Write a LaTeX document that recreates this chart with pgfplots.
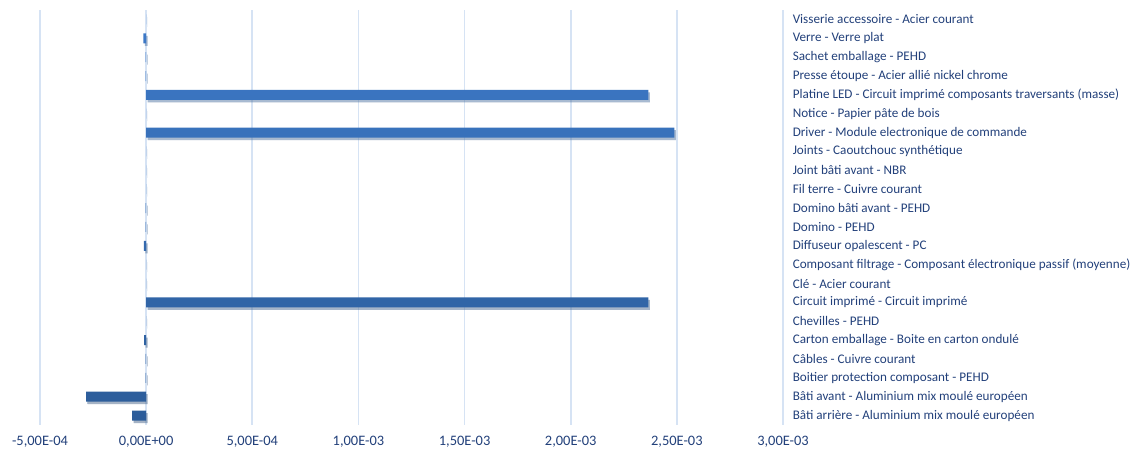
\documentclass[border=0pt]{standalone}
\usepackage{fontspec}
\setmainfont{Carlito}
\usepackage{pgfplots}
\pgfplotsset{compat=1.18}
\usetikzlibrary{shadows}
\definecolor{barblue}{HTML}{3D7AC9}
\definecolor{bardark}{HTML}{2C5C99}
\definecolor{gridblue}{HTML}{D6E3F4}
\definecolor{labelnavy}{HTML}{22407A}
\begin{document}
\begin{tikzpicture}
\begin{axis}[
    scale only axis,
    width=743bp, height=415bp,
    xmin=-5e-4, xmax=3e-3,
    ymin=-0.5, ymax=21.5,
    xbar, bar width=10bp,
    axis line style={draw=none},
    tick style={draw=none},
    xmajorgrids,
    grid style={gridblue, line width=1.6bp},
    scaled x ticks=false,
    /pgf/number format/assume math mode=true,
    xtick={-5e-4,0,5e-4,1e-3,1.5e-3,2e-3,2.5e-3,3e-3},
    xticklabels={{-5,00E-04},{0,00E+00},{5,00E-04},{1,00E-03},{1,50E-03},{2,00E-03},{2,50E-03},{3,00E-03}},
    ytick={0,...,21},
    yticklabels={
      Bâti arrière - Aluminium mix moulé européen,
      Bâti avant - Aluminium mix moulé européen,
      Boitier protection composant - PEHD,
      Câbles - Cuivre courant,
      Carton emballage - Boite en carton ondulé,
      Chevilles - PEHD,
      Circuit imprimé - Circuit imprimé,
      Clé - Acier courant,
      Composant filtrage - Composant électronique passif (moyenne),
      Diffuseur opalescent - PC,
      Domino - PEHD,
      Domino bâti avant - PEHD,
      Fil terre - Cuivre courant,
      Joint bâti avant - NBR,
      Joints - Caoutchouc synthétique,
      Driver - Module electronique de commande,
      Notice - Papier pâte de bois,
      Platine LED - Circuit imprimé composants traversants (masse),
      Presse étoupe - Acier allié nickel chrome,
      Sachet emballage - PEHD,
      Verre - Verre plat,
      Visserie accessoire - Acier courant},
    yticklabel pos=right,
    yticklabel style={font=\fontsize{13.2}{15}\selectfont, text=labelnavy, anchor=west, xshift=2bp},
    xticklabel style={font=\fontsize{14.5}{16}\selectfont, text=labelnavy, yshift=-8bp},
]
\addplot[draw=none, top color=barblue, bottom color=bardark,
  drop shadow={shadow xshift=1.5bp, shadow yshift=-2.5bp, opacity=0.3, fill=gray}]
  coordinates {
  (-6.6e-5,0) (-2.83e-4,1) (-2e-6,2) (-2e-6,3) (-1e-5,4) (0,5)
  (2.366e-3,6) (0,7) (0,8) (-1.1e-5,9) (-3e-6,10) (-3e-6,11)
  (0,12) (0,13) (0,14) (2.488e-3,15) (0,16) (2.366e-3,17)
  (-3e-6,18) (-3e-6,19) (-1.3e-5,20) (0,21)};
\end{axis}
\pgfresetboundingbox
\path (current axis.south west) ++(-40bp,-32bp) rectangle ++(1138bp,457bp);
\end{tikzpicture}
\end{document}
